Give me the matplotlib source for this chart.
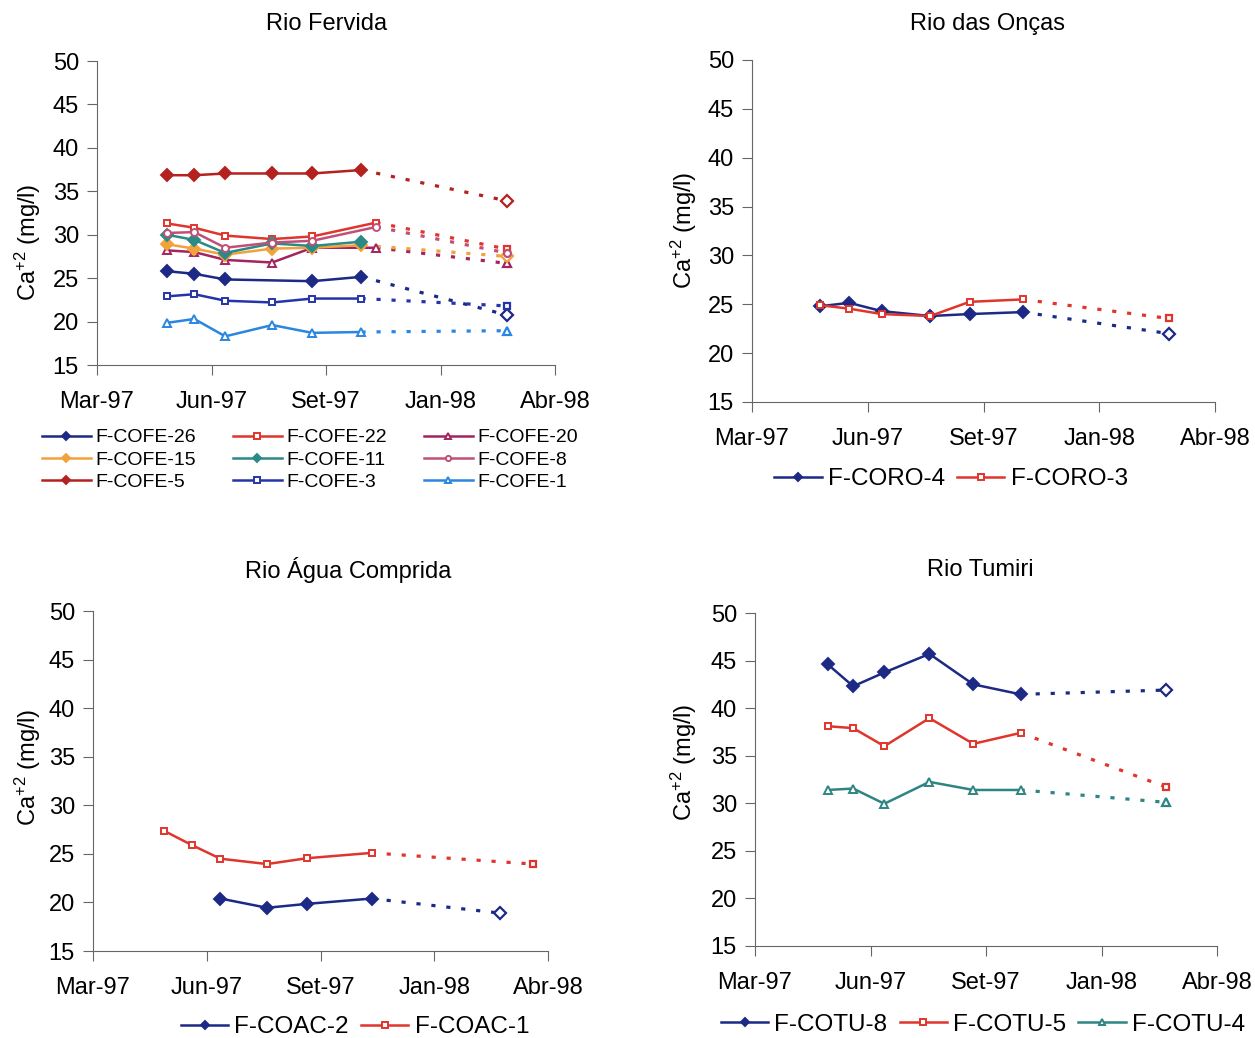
import numpy as np
import matplotlib.pyplot as plt
import matplotlib.dates as mdates

plt.rcParams['font.family'] = ['Liberation Sans', 'DejaVu Sans']
plt.rcParams['mathtext.default'] = 'regular'

# axis: 5 ticks, 100 days apart
start = '1997-03-10'
tick_labels = ['Mar-97', 'Jun-97', 'Set-97', 'Jan-98', 'Abr-98']

# ---- Rio Fervida ----
fe_dates = ['1997-05-10', '1997-06-03', '1997-06-30', '1997-08-10', '1997-09-14', '1997-10-27']
fe_dates_b = ['1997-05-10', '1997-06-03', '1997-06-30', '1997-08-10', '1997-09-14', '1997-11-09']
fe_dates_26 = ['1997-05-10', '1997-06-03', '1997-06-30', '1997-09-14', '1997-10-27']
fe_last = '1998-03-03'

cofe26 = [25.8, 25.5, 24.85, 24.65, 25.15]
cofe22 = [31.3, 30.8, 29.9, 29.5, 29.8, 31.4]
cofe20 = [28.2, 28.0, 27.1, 26.8, 28.5, 28.5]
cofe15 = [28.9, 28.4, 27.7, 28.4, 28.5, 28.8]
cofe11 = [30.0, 29.4, 27.9, 29.0, 28.7, 29.2]
cofe8 = [30.2, 30.3, 28.5, 29.1, 29.3, 30.9]
cofe5 = [36.85, 36.85, 37.05, 37.05, 37.05, 37.45]
cofe3 = [22.9, 23.15, 22.4, 22.2, 22.65, 22.65]
cofe1 = [19.85, 20.3, 18.3, 19.6, 18.7, 18.8]
cofe_final = {'F-COFE-26': 20.75, 'F-COFE-22': 28.35, 'F-COFE-20': 26.7,
              'F-COFE-15': 27.5, 'F-COFE-8': 27.9, 'F-COFE-5': 33.9,
              'F-COFE-3': 21.8, 'F-COFE-1': 18.95}

# ---- Rio das Onças ----
on_dates = ['1997-05-08', '1997-06-02', '1997-06-30', '1997-08-11', '1997-09-14', '1997-10-30']
on_last = '1998-03-05'
coro4 = [24.8, 25.15, 24.3, 23.8, 24.0, 24.2]
coro3 = [24.9, 24.55, 24.0, 23.8, 25.25, 25.5]
coro_final = {'F-CORO-4': 22.0, 'F-CORO-3': 23.55}

# ---- Rio Água Comprida ----
ac_dates1 = ['1997-05-11', '1997-06-05', '1997-06-30', '1997-08-10', '1997-09-14', '1997-11-10']
ac_dates2 = ['1997-06-30', '1997-08-10', '1997-09-14', '1997-11-10']
coac1 = [27.4, 25.9, 24.5, 23.95, 24.55, 25.1]
coac2 = [20.4, 19.45, 19.85, 20.4]
coac_last = {'F-COAC-2': ('1998-03-03', 18.9), 'F-COAC-1': ('1998-04-01', 23.95)}

# ---- Rio Tumiri ----
tu_dates = ['1997-05-12', '1997-06-03', '1997-06-30', '1997-08-08', '1997-09-15', '1997-10-26']
tu_last = '1998-03-01'
cotu8 = [44.6, 42.3, 43.75, 45.7, 42.5, 41.45]
cotu5 = [38.1, 37.9, 36.0, 38.95, 36.25, 37.4]
cotu4 = [31.4, 31.55, 29.95, 32.25, 31.4, 31.4]
cotu_final = {'F-COTU-8': 41.9, 'F-COTU-5': 31.7, 'F-COTU-4': 30.1}

navy = '#1c2a85'
red = '#e0352c'
purple = '#a3245f'
orange = '#f2a23a'
teal = '#2b8a86'
mauve = '#c05078'
darkred = '#b3221f'
blue = '#2535a8'
lightblue = '#2a86e0'
teal2 = '#2e8583'

dotted = (0, (1.3, 3.4))
msize = {'D': 6, 's': 5, '^': 6, 'o': 5}


def series(ax, dates, vals, color, marker, filled, label, last=None):
    x = mdates.datestr2num(dates)
    ms = msize[marker]
    mfc = color if filled else 'white'
    h, = ax.plot(x, vals, color=color, lw=1.8, marker=marker, ms=ms,
                 mfc=mfc, mec=color, mew=1.4, label=label, zorder=3)
    if last is not None:
        lx = mdates.datestr2num(last[0])
        ax.plot([x[-1], lx], [vals[-1], last[1]], color=color, lw=2.3,
                ls=dotted, zorder=2)
        ax.plot([lx], [last[1]], color=color, marker=marker, ms=ms,
                mfc='white', mec=color, mew=1.6, zorder=3)
    return h


def setup(ax):
    t0 = mdates.datestr2num(start)
    ax.set_xlim(t0, t0 + 400)
    ax.set_xticks(t0 + np.arange(5) * 100)
    ax.set_xticklabels(tick_labels)
    ax.set_ylim(15, 50)
    ax.set_yticks(np.arange(15, 51, 5))
    ax.spines['top'].set_visible(False)
    ax.spines['right'].set_visible(False)
    ax.spines['left'].set_color('#666666')
    ax.spines['bottom'].set_color('#666666')
    ax.tick_params(direction='out', length=7, labelsize=17, color='#666666')
    ax.tick_params(axis='x', pad=12)
    ax.tick_params(axis='y', pad=6)


fig = plt.figure(figsize=(12.55, 10.38), dpi=100)
W, H = 1255, 1038


def add_axes(l, t, r, b):
    return fig.add_axes([l / W, 1 - b / H, (r - l) / W, (b - t) / H])


ax1 = add_axes(97, 61, 555, 365)
ax2 = add_axes(752, 60, 1215, 402)
ax3 = add_axes(93, 611, 548, 951)
ax4 = add_axes(755, 613, 1217, 946)
for ax in (ax1, ax2, ax3, ax4):
    setup(ax)

# Rio Fervida
h26 = series(ax1, fe_dates_26, cofe26, navy, 'D', True, 'F-COFE-26', (fe_last, cofe_final['F-COFE-26']))
h22 = series(ax1, fe_dates_b, cofe22, red, 's', False, 'F-COFE-22', (fe_last, cofe_final['F-COFE-22']))
h20 = series(ax1, fe_dates_b, cofe20, purple, '^', False, 'F-COFE-20', (fe_last, cofe_final['F-COFE-20']))
h15 = series(ax1, fe_dates, cofe15, orange, 'D', True, 'F-COFE-15', (fe_last, cofe_final['F-COFE-15']))
h11 = series(ax1, fe_dates, cofe11, teal, 'D', True, 'F-COFE-11')
h8 = series(ax1, fe_dates_b, cofe8, mauve, 'o', False, 'F-COFE-8', (fe_last, cofe_final['F-COFE-8']))
h5 = series(ax1, fe_dates, cofe5, darkred, 'D', True, 'F-COFE-5', (fe_last, cofe_final['F-COFE-5']))
h3 = series(ax1, fe_dates, cofe3, blue, 's', False, 'F-COFE-3', (fe_last, cofe_final['F-COFE-3']))
h1 = series(ax1, fe_dates, cofe1, lightblue, '^', False, 'F-COFE-1', (fe_last, cofe_final['F-COFE-1']))

leg_kw = dict(frameon=False, handletextpad=0.25, borderpad=0, borderaxespad=0,
              markerscale=0.75)
# legend is filled column-wise, so order handles by column
order = [h26, h15, h5, h22, h11, h3, h20, h8, h1]
fig.legend(handles=order, loc='center', bbox_to_anchor=(310 / W, 1 - 460 / H),
           ncol=3, fontsize=14, handlelength=2.5, columnspacing=1.9,
           labelspacing=0.25, **leg_kw)

small_leg = dict(fontsize=17.5, handlelength=1.95, columnspacing=0.5, **leg_kw)

# Rio das Onças
c4 = series(ax2, on_dates, coro4, navy, 'D', True, 'F-CORO-4', (on_last, coro_final['F-CORO-4']))
c3 = series(ax2, on_dates, coro3, red, 's', False, 'F-CORO-3', (on_last, coro_final['F-CORO-3']))
fig.legend(handles=[c4, c3], loc='center', bbox_to_anchor=(951 / W, 1 - 479 / H),
           ncol=2, **small_leg)

# Rio Água Comprida
a2 = series(ax3, ac_dates2, coac2, navy, 'D', True, 'F-COAC-2', coac_last['F-COAC-2'])
a1 = series(ax3, ac_dates1, coac1, red, 's', False, 'F-COAC-1', coac_last['F-COAC-1'])
fig.legend(handles=[a2, a1], loc='center', bbox_to_anchor=(355 / W, 1 - 1027 / H),
           ncol=2, **small_leg)

# Rio Tumiri
t8 = series(ax4, tu_dates, cotu8, navy, 'D', True, 'F-COTU-8', (tu_last, cotu_final['F-COTU-8']))
t5 = series(ax4, tu_dates, cotu5, red, 's', False, 'F-COTU-5', (tu_last, cotu_final['F-COTU-5']))
t4 = series(ax4, tu_dates, cotu4, teal2, '^', False, 'F-COTU-4', (tu_last, cotu_final['F-COTU-4']))
fig.legend(handles=[t8, t5, t4], loc='center', bbox_to_anchor=(983 / W, 1 - 1025 / H),
           ncol=3, **small_leg)

titles = [('Rio Fervida', 327, 24), ('Rio das Onças', 988, 24),
          ('Rio Água Comprida', 348, 570), ('Rio Tumiri', 980, 570)]
for txt, x, y in titles:
    fig.text(x / W, 1 - y / H, txt, ha='center', va='center', fontsize=17)

ylab = r'Ca$^{+2}$ (mg/l)'
for x, y in [(28, 242), (684, 230), (28, 767), (684, 762)]:
    fig.text(x / W, 1 - y / H, ylab, ha='center', va='center', rotation=90, fontsize=17)

fig.savefig('out.png', dpi=100)
